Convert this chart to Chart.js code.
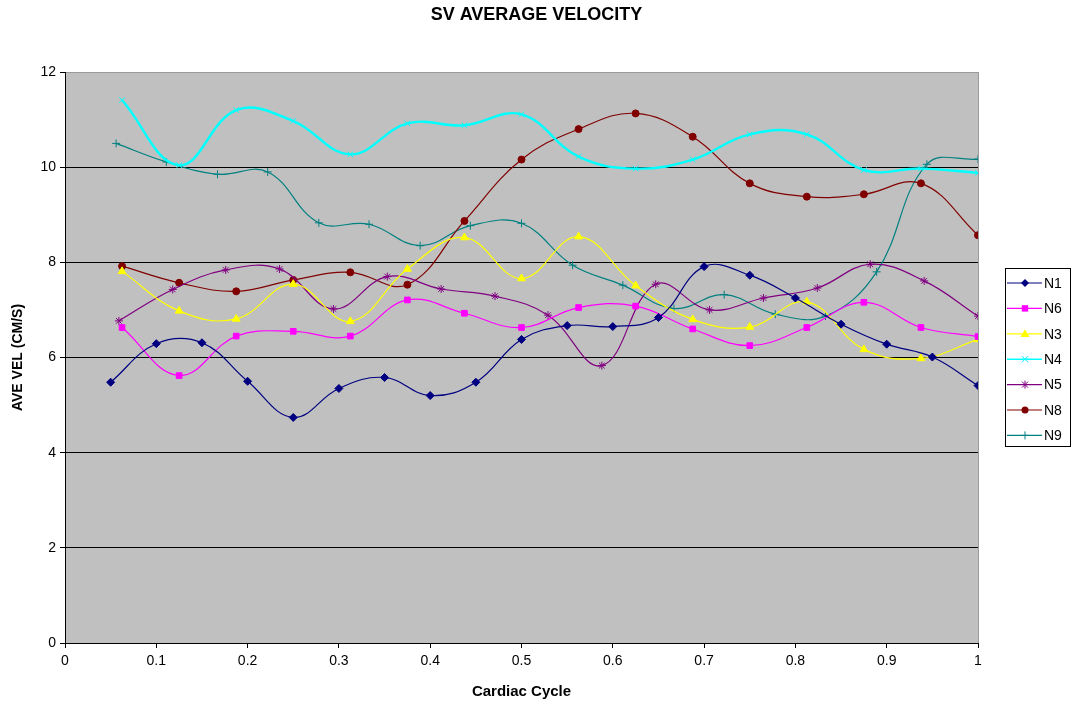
<!DOCTYPE html>
<html>
<head>
    <title>SV Average Velocity</title>
    <script src="https://cdn.jsdelivr.net/npm/chart.js"></script>
    <style>
        body { margin: 0; background: #fff; }
    </style>
</head>
<body>
    <canvas id="velChart" width="1073" height="708"></canvas>
    <script>
        // cardiac cycle positions (x) for each series
        const x20 = [0.05, 0.1, 0.15, 0.2, 0.25, 0.3, 0.35, 0.4, 0.45, 0.5, 0.55, 0.6, 0.65, 0.7, 0.75, 0.8, 0.85, 0.9, 0.95, 1];
        const x16 = [0.0625, 0.125, 0.1875, 0.25, 0.3125, 0.375, 0.4375, 0.5, 0.5625, 0.625, 0.6875, 0.75, 0.8125, 0.875, 0.9375, 1];
        const x17 = [0.059, 0.118, 0.176, 0.235, 0.294, 0.353, 0.412, 0.471, 0.529, 0.588, 0.647, 0.706, 0.765, 0.824, 0.882, 0.941, 1];
        const x18 = [0.056, 0.111, 0.167, 0.222, 0.278, 0.333, 0.389, 0.444, 0.5, 0.556, 0.611, 0.667, 0.722, 0.778, 0.833, 0.889, 0.944, 1];

        // average velocity (cm/s)
        const n1 = [5.48, 6.29, 6.31, 5.50, 4.74, 5.35, 5.58, 5.20, 5.48, 6.38, 6.67, 6.65, 6.84, 7.91, 7.73, 7.25, 6.70, 6.28, 6.01, 5.41];
        const n6 = [6.63, 5.62, 6.45, 6.55, 6.45, 7.21, 6.93, 6.63, 7.05, 7.08, 6.60, 6.25, 6.63, 7.16, 6.63, 6.44];
        const n3 = [7.81, 6.98, 6.81, 7.54, 6.76, 7.86, 8.52, 7.66, 8.54, 7.51, 6.80, 6.64, 7.17, 6.17, 5.98, 6.38];
        const n4 = [11.41, 10.04, 11.20, 10.97, 10.27, 10.92, 10.88, 11.11, 10.22, 9.97, 10.16, 10.69, 10.69, 9.94, 9.97, 9.88];
        const n5 = [6.77, 7.43, 7.84, 7.86, 7.02, 7.70, 7.44, 7.29, 6.89, 5.83, 7.54, 7.00, 7.25, 7.46, 7.96, 7.61, 6.87];
        const n8 = [7.92, 7.57, 7.39, 7.63, 7.79, 7.53, 8.87, 10.16, 10.80, 11.13, 10.64, 9.66, 9.38, 9.43, 9.66, 8.57];
        const n9 = [10.50, 10.11, 9.85, 9.90, 8.83, 8.80, 8.35, 8.77, 8.82, 7.94, 7.52, 7.03, 7.32, 6.91, 6.87, 7.80, 10.06, 10.17];

        const pts = (xs, ys) => xs.map((x, i) => ({ x: x, y: ys[i] }));

        function series(label, xs, ys, color, style, radius, width) {
            return {
                label: label,
                data: pts(xs, ys),
                borderColor: color,
                backgroundColor: color,
                borderWidth: width,
                pointStyle: style,
                pointRadius: radius,
                pointHoverRadius: radius,
                pointBorderWidth: 1,
                tension: 0.4
            };
        }

        const datasets = [
            series('N1', x20, n1, '#000080', 'rectRot', 4, 1.2),
            series('N6', x16, n6, '#ff00ff', 'rect', 4, 1.2),
            series('N3', x16, n3, '#ffff00', 'triangle', 4.5, 1.2),
            series('N4', x16, n4, '#00ffff', 'crossRot', 4, 2.4),
            series('N5', x17, n5, '#800080', 'star', 4, 1.2),
            series('N8', x16, n8, '#800000', 'circle', 3.5, 1.2),
            series('N9', x18, n9, '#008080', 'cross', 4, 1.2)
        ];

        // grey plot area with thin border
        const plotBg = {
            id: 'plotBg',
            beforeDraw(chart) {
                const { ctx, chartArea: a } = chart;
                ctx.save();
                ctx.fillStyle = '#c0c0c0';
                ctx.fillRect(a.left, a.top, a.right - a.left, a.bottom - a.top);
                ctx.strokeStyle = '#9a9a9a';
                ctx.lineWidth = 1;
                ctx.strokeRect(a.left + 0.5, a.top + 0.5, a.right - a.left, a.bottom - a.top);
                ctx.restore();
            }
        };

        function marker(ctx, style, x, y, r) {
            ctx.beginPath();
            if (style === 'rectRot') {
                ctx.moveTo(x, y - r); ctx.lineTo(x + r, y); ctx.lineTo(x, y + r); ctx.lineTo(x - r, y); ctx.closePath(); ctx.fill();
            } else if (style === 'rect') {
                ctx.fillRect(x - r * 0.8, y - r * 0.8, r * 1.6, r * 1.6);
            } else if (style === 'triangle') {
                ctx.moveTo(x, y - r); ctx.lineTo(x + r, y + r * 0.7); ctx.lineTo(x - r, y + r * 0.7); ctx.closePath(); ctx.fill();
            } else if (style === 'circle') {
                ctx.arc(x, y, r, 0, Math.PI * 2); ctx.fill();
            } else if (style === 'crossRot' || style === 'star' || style === 'cross') {
                const d = r * 0.75;
                if (style !== 'cross') {
                    ctx.moveTo(x - d, y - d); ctx.lineTo(x + d, y + d);
                    ctx.moveTo(x + d, y - d); ctx.lineTo(x - d, y + d);
                }
                if (style !== 'crossRot') {
                    ctx.moveTo(x, y - r); ctx.lineTo(x, y + r);
                    if (style === 'cross') { ctx.moveTo(x - r, y); ctx.lineTo(x + r, y); }
                }
                ctx.stroke();
            }
        }

        // Excel style legend box: line + marker + name
        const boxLegend = {
            id: 'boxLegend',
            afterDraw(chart) {
                const ctx = chart.ctx;
                const left = 1005, top = 268, w = 65, h = 178;
                ctx.save();
                ctx.fillStyle = '#fff';
                ctx.fillRect(left, top, w, h);
                ctx.strokeStyle = '#000';
                ctx.lineWidth = 1;
                ctx.strokeRect(left + 0.5, top + 0.5, w, h);
                ctx.font = '14px "Liberation Sans", Arial, sans-serif';
                ctx.textBaseline = 'middle';
                chart.data.datasets.forEach((ds, i) => {
                    const y = top + 15 + i * 25.4;
                    ctx.strokeStyle = ds.borderColor;
                    ctx.fillStyle = ds.borderColor;
                    ctx.lineWidth = ds.borderWidth > 2 ? 1.6 : 1.2;
                    ctx.beginPath();
                    ctx.moveTo(left + 2, y); ctx.lineTo(left + 37, y);
                    ctx.stroke();
                    ctx.lineWidth = 1;
                    marker(ctx, ds.pointStyle, left + 20, y, ds.pointRadius);
                    ctx.fillStyle = '#000';
                    ctx.fillText(ds.label, left + 39, y + 1);
                });
                ctx.restore();
            }
        };

        new Chart(document.getElementById('velChart'), {
            type: 'line',
            data: { datasets: datasets },
            options: {
                responsive: false,
                animation: false,
                events: [],
                layout: { padding: 0 },
                plugins: {
                    legend: { display: false },
                    tooltip: { enabled: false },
                    title: {
                        display: true,
                        text: 'SV AVERAGE VELOCITY',
                        color: '#000',
                        font: { family: '"Liberation Sans", Arial, sans-serif', size: 18, weight: 'bold' },
                        padding: { top: 4.5, bottom: 45.9 }
                    }
                },
                scales: {
                    x: {
                        type: 'linear',
                        min: 0,
                        max: 1,
                        afterFit: s => { s.height = 65; },
                        border: { color: '#000', width: 1 },
                        grid: { drawOnChartArea: false, color: '#000', tickLength: 5 },
                        ticks: {
                            stepSize: 0.1,
                            autoSkip: false,
                            maxRotation: 0,
                            padding: 5,
                            color: '#000',
                            font: { family: '"Liberation Sans", Arial, sans-serif', size: 14 },
                            callback: v => String(Number(v.toFixed(1)))
                        },
                        title: {
                            display: true,
                            text: 'Cardiac Cycle',
                            color: '#000',
                            font: { family: '"Liberation Sans", Arial, sans-serif', size: 15, weight: 'bold' },
                            padding: { top: 0, bottom: 7 }
                        }
                    },
                    y: {
                        min: 0,
                        max: 12,
                        afterFit: s => { s.width = 65; },
                        border: { color: '#000', width: 1 },
                        grid: {
                            color: c => (c.tick && c.tick.value === 12 ? '#9a9a9a' : '#000'),
                            tickColor: '#000',
                            tickLength: 5
                        },
                        ticks: {
                            stepSize: 2,
                            padding: 4,
                            color: '#000',
                            font: { family: '"Liberation Sans", Arial, sans-serif', size: 14 }
                        },
                        title: {
                            display: true,
                            text: 'AVE VEL (CM/S)',
                            color: '#000',
                            font: { family: '"Liberation Sans", Arial, sans-serif', size: 14, weight: 'bold' },
                            padding: { top: 10, bottom: 0 }
                        }
                    },
                    // empty right axis only reserves room for the legend box
                    side: {
                        type: 'linear',
                        position: 'right',
                        display: true,
                        afterFit: s => { s.width = 95; },
                        border: { display: false },
                        grid: { display: false, drawOnChartArea: false },
                        ticks: { display: false }
                    }
                }
            },
            plugins: [plotBg, boxLegend]
        });
    </script>
</body>
</html>
